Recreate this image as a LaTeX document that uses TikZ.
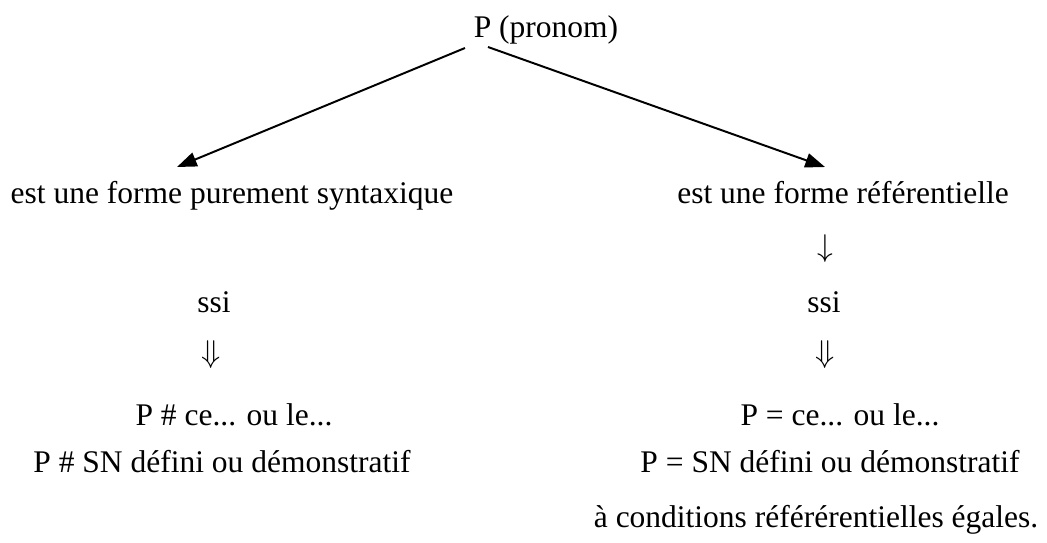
\documentclass[tikz,border=0pt]{standalone}
\usepackage{fontspec}
\setmainfont{Liberation Serif}
\usetikzlibrary{arrows.meta}
\begin{document}
\begin{tikzpicture}[x=0.381pt,y=-0.381pt,
	txt/.style={anchor=base, inner sep=0pt, font=\fontsize{12}{14}\selectfont},
	sym/.style={anchor=center, inner sep=0pt, font=\fontsize{12}{14}\selectfont},
	fleche/.style={line width=0.75pt, -{Triangle[length=7.5pt,width=5.5pt]}}]
	\useasboundingbox (0,0) rectangle (1047,542);

	\node[txt] (pron) at (546,37) {P (pronom)};

	\node[txt] (synt) at (232,203) {est une forme purement syntaxique};
	\node[txt] (refe) at (843,203) {est une forme référentielle};

	\coordinate (depg) at (465,48);
	\coordinate (depd) at (488,47);
	\coordinate (fing) at (177,167);
	\coordinate (find) at (825,167);

	\draw[fleche](depg)--(fing);
	\draw[fleche](depd)--(find);

	% branche de droite
	\node[sym] (flr) at (825,249) {$\downarrow$};
	\node[txt] (ssir) at (824,312) {ssi};
	\node[sym] (implr) at (825,355) {$\Downarrow$};
	\node[txt] (egal1) at (840,425) {P = ce... ou le...};
	\node[txt] (egal2) at (830,472) {P = SN défini ou démonstratif};
	\node[txt] (cond) at (816,527) {à conditions référérentielles égales.};

	% branche de gauche
	\node[txt] (ssil) at (214,312) {ssi};
	\node[sym] (impll) at (211,355) {$\Downarrow$};
	\node[txt] (diff1) at (234,425) {P \# ce... ou le...};
	\node[txt] (diff2) at (222,472) {P \# SN défini ou démonstratif};
\end{tikzpicture}
\end{document}
